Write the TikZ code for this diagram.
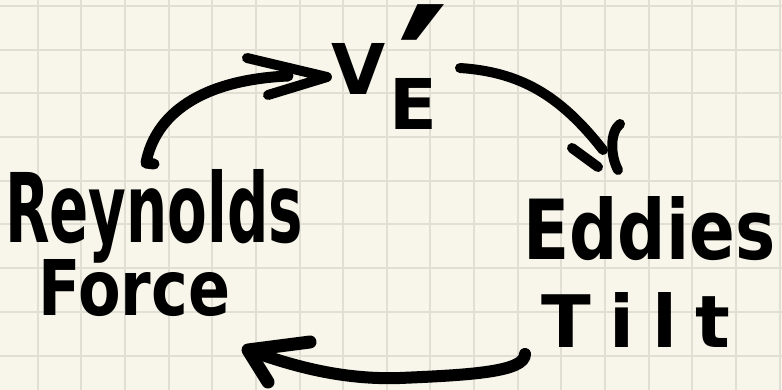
\documentclass[tikz,border=0pt]{standalone}
\usepackage{fontspec}
\usepackage{graphicx}
\setmainfont{DejaVu Sans}
\definecolor{paper}{HTML}{F8F6EA}
\definecolor{gridc}{HTML}{E1DFD3}
\begin{document}
\begin{tikzpicture}[x=1pt,y=-1pt,
  gridline/.style={line width=2pt, gridc},
  ink/.style={line width=11pt, line cap=round, line join=round, black},
  headink/.style={line width=10pt, line cap=round, line join=round, black},
  lbl/.style={inner sep=0pt, font=\bfseries, anchor=base west}]
\fill[paper] (0,0) rectangle (782,390);
\useasboundingbox (0,0) rectangle (782,390);
\foreach \k in {0,...,17} \draw[gridline] ({37.7+43.64*\k},0) -- ++(0,390);
\foreach \k in {0,...,8} \draw[gridline] (0,{6+43.7*\k}) -- ++(782,0);

% labels
\node[lbl] (reynolds) at (5,243) {\resizebox{298pt}{73pt}{Reynolds}};
\node[lbl] (force) at (38,316) {\resizebox{192pt}{56pt}{Force}};
\node[lbl] (eddies) at (523,260) {\resizebox{252pt}{63pt}{Eddies}};
\node[lbl] (tilt) at (541,347) {\resizebox{189pt}{55pt}{\addfontfeature{LetterSpace=25}Tilt}};
\node[lbl, font=\fontsize{70}{70}\selectfont\bfseries] (ve) at (331,95)
  {V\rlap{\hspace{12pt}\raisebox{-53pt}{\scalebox{2.8}{′}}}\hspace{4pt}\raisebox{-35pt}{E}};

% connector ends
\coordinate (a1s) at (146,163);
\coordinate (a1e) at (288,76);
\coordinate (a1t) at (327,77);
\coordinate (a2s) at (460,68);
\coordinate (a2e) at (603,150);
\coordinate (a3s) at (525,354);
\coordinate (a3e) at (248,350);

% arrow 1: Reynolds -> V'_E
\draw[ink] (154,164) -- (a1s) .. controls (155,115) and (200,80) .. (a1e);
\draw[headink] (247,58) -- (a1t) -- (268,95);
% arrow 2: V'_E -> Eddies
\draw[ink, line width=10pt] (a2s) .. controls (520,72) and (560,95) .. (a2e);
\draw[headink] (572,148) -- (598,167);
\draw[headink] (620,124) .. controls (610,132) and (610,155) .. (618,170);
% arrow 3: Tilt -> Force
\draw[ink, line width=12pt] (a3s) .. controls (525,372) and (470,375) .. (400,378)
  .. controls (340,380) and (290,365) .. (a3e);
\draw[headink, line width=13pt] (310,342) -- (a3e) -- (268,382);
\end{tikzpicture}
\end{document}
